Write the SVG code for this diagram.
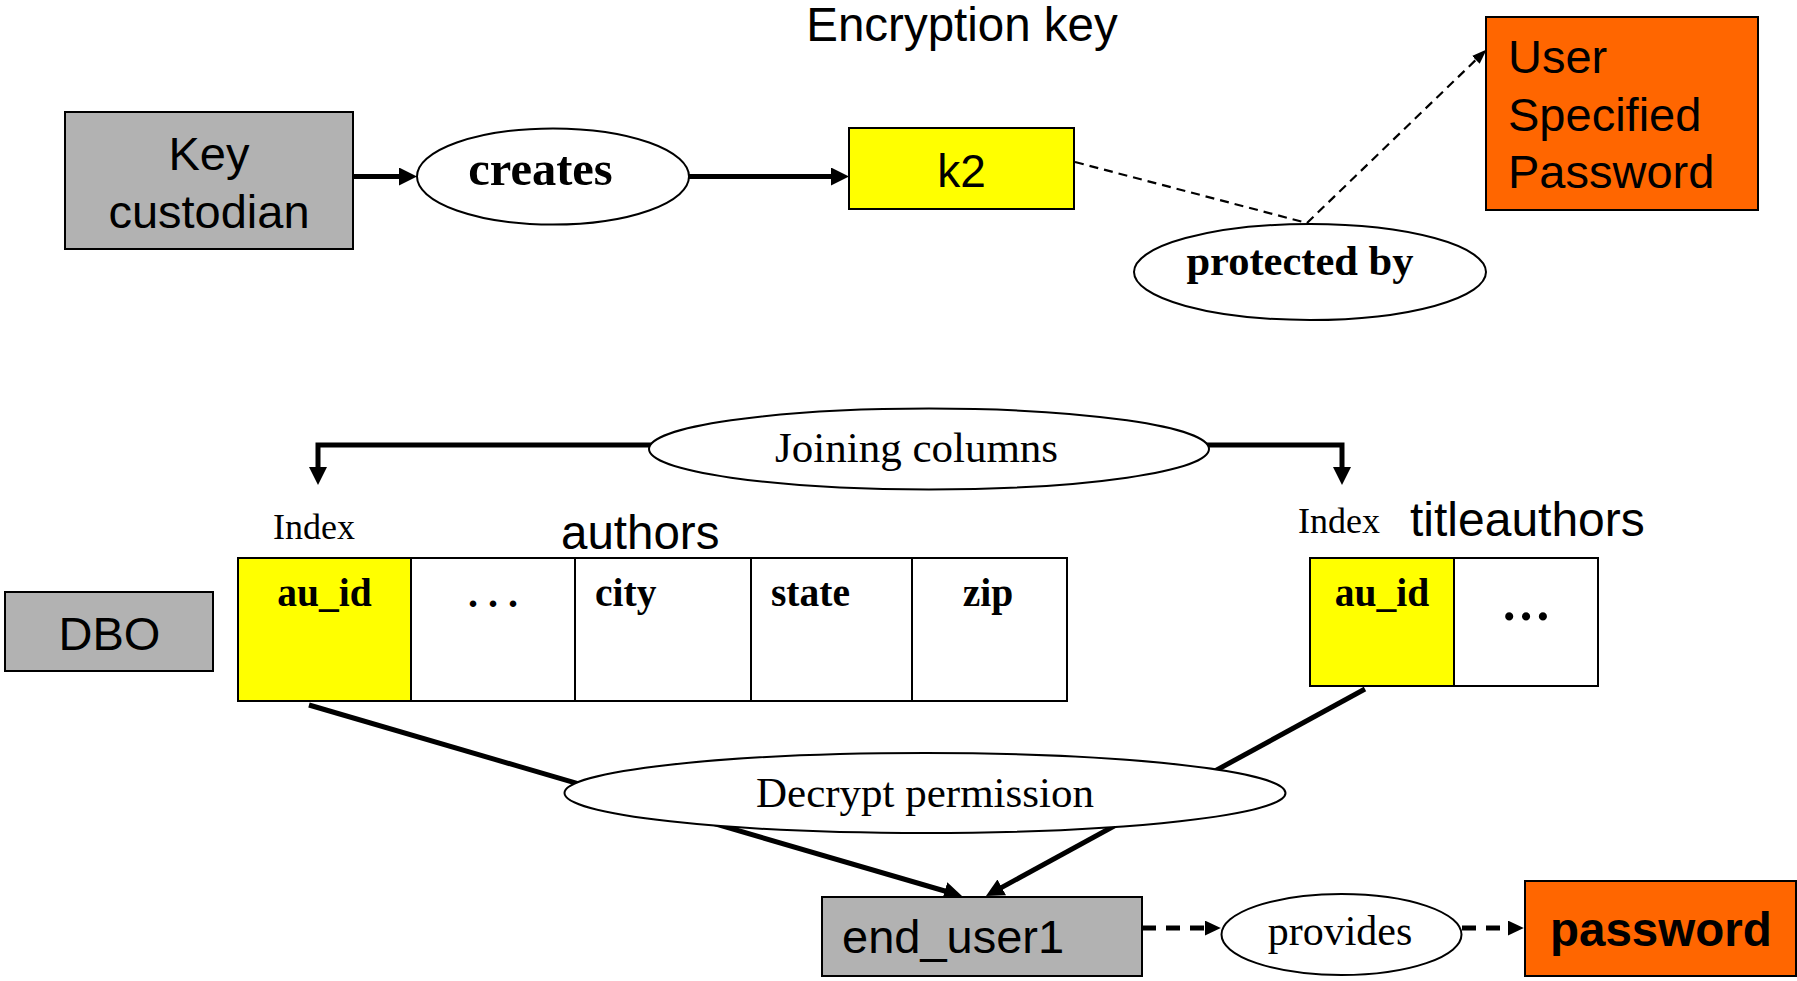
<svg xmlns="http://www.w3.org/2000/svg" width="1797" height="981" viewBox="0 0 1797 981">
  <style>
    .sans { font-family: "Liberation Sans", Arial, sans-serif; fill: #000; }
    .serif { font-family: "Liberation Serif", "Times New Roman", serif; fill: #000; }
    .bold { font-weight: bold; }
    .box { stroke: #000; stroke-width: 2; }
    .gray { fill: #b2b2b2; }
    .yellow { fill: #ffff00; }
    .orange { fill: #ff6600; }
    .white { fill: #ffffff; }
    .oval { fill: #ffffff; stroke: #000; stroke-width: 2; }
    .thick { fill: none; stroke: #000; stroke-width: 5; }
    .thin-dash { fill: none; stroke: #000; stroke-width: 2.2; stroke-dasharray: 9 6; }
    .thick-dash { fill: none; stroke: #000; stroke-width: 5; stroke-dasharray: 14 10; }
  </style>
  <defs>
    <marker id="ah" viewBox="0 0 10 10" refX="2" refY="5" markerUnits="userSpaceOnUse" markerWidth="18" markerHeight="18" orient="auto" preserveAspectRatio="none">
      <path d="M0,0 L10,5 L0,10 z" fill="#000"/>
    </marker>
    <marker id="ah-dash" viewBox="0 0 10 10" refX="2" refY="5" markerUnits="userSpaceOnUse" markerWidth="16" markerHeight="15" orient="auto" preserveAspectRatio="none">
      <path d="M0,0 L10,5 L0,10 z" fill="#000"/>
    </marker>
    <marker id="ah-thin" viewBox="0 0 10 10" refX="2" refY="5" markerUnits="userSpaceOnUse" markerWidth="15" markerHeight="11" orient="auto" preserveAspectRatio="none">
      <path d="M0,0 L10,5 L0,10 z" fill="#000"/>
    </marker>
  </defs>

  <rect width="1797" height="981" fill="#ffffff"/>

  <!-- heading -->
  <text class="sans" x="962" y="41" font-size="47.5" text-anchor="middle">Encryption key</text>

  <!-- connectors (drawn first so the ovals sit on top of them) -->
  <g id="connectors">
    <line class="thick" x1="353" y1="176.5" x2="402.6" y2="176.5" marker-end="url(#ah)"/>
    <line class="thick" x1="689" y1="176.5" x2="834.6" y2="176.5" marker-end="url(#ah)"/>
    <line class="thin-dash" x1="1075" y1="162" x2="1307" y2="223"/>
    <line class="thin-dash" x1="1307" y1="223" x2="1478" y2="57.8" marker-end="url(#ah-thin)"/>
    <path class="thick" d="M652,445 H318 V470.6" marker-end="url(#ah)"/>
    <path class="thick" d="M1206,445 H1342 V470.6" marker-end="url(#ah)"/>
    <line class="thick" x1="309" y1="705" x2="948.2" y2="892" marker-end="url(#ah)"/>
    <line class="thick" x1="1365" y1="689" x2="998.6" y2="889.1" marker-end="url(#ah)"/>
    <line class="thick-dash" x1="1142" y1="928" x2="1208" y2="928" marker-end="url(#ah-dash)"/>
    <line class="thick-dash" x1="1462" y1="928" x2="1511" y2="928" marker-end="url(#ah-dash)"/>
  </g>

  <g id="key-custodian">
    <rect class="box gray" x="65" y="112" width="288" height="137"/>
    <text class="sans" x="209" y="170" font-size="47" text-anchor="middle">Key</text>
    <text class="sans" x="209" y="228" font-size="47" text-anchor="middle">custodian</text>
  </g>

  <g id="creates">
    <ellipse class="oval" cx="553" cy="176.5" rx="136" ry="48"/>
    <text class="serif bold" x="540.5" y="185" font-size="48.5" text-anchor="middle">creates</text>
  </g>

  <g id="k2">
    <rect class="box yellow" x="849" y="128" width="225" height="81"/>
    <text class="sans" x="961.5" y="187" font-size="46" text-anchor="middle">k2</text>
  </g>

  <g id="protected-by">
    <ellipse class="oval" cx="1310" cy="272" rx="176" ry="48"/>
    <text class="serif bold" x="1300" y="275" font-size="42.5" text-anchor="middle">protected by</text>
  </g>

  <g id="user-password">
    <rect class="box orange" x="1486" y="17" width="272" height="193"/>
    <text class="sans" x="1508" y="73" font-size="47">User</text>
    <text class="sans" x="1508" y="131" font-size="47">Specified</text>
    <text class="sans" x="1508" y="188" font-size="47">Password</text>
  </g>

  <g id="joining-columns">
    <ellipse class="oval" cx="929" cy="449" rx="280" ry="40.5"/>
    <text class="serif" x="775" y="462" font-size="43">Joining columns</text>
  </g>

  <g id="dbo">
    <rect class="box gray" x="5" y="592" width="208" height="79"/>
    <text class="sans" x="109.5" y="650" font-size="47" text-anchor="middle">DBO</text>
  </g>

  <g id="authors">
    <text class="serif" x="273" y="539" font-size="36">Index</text>
    <text class="sans" x="561" y="549" font-size="47.5">authors</text>
    <rect class="box yellow" x="238" y="558" width="173" height="143"/>
    <rect class="box white" x="411" y="558" width="164" height="143"/>
    <rect class="box white" x="575" y="558" width="176" height="143"/>
    <rect class="box white" x="751" y="558" width="161" height="143"/>
    <rect class="box white" x="912" y="558" width="155" height="143"/>
    <text class="serif bold" x="324.5" y="606" font-size="39.5" text-anchor="middle">au_id</text>
    <text class="serif bold" x="493" y="607" font-size="40" text-anchor="middle">. . .</text>
    <text class="serif bold" x="595" y="606" font-size="39.5">city</text>
    <text class="serif bold" x="771" y="606" font-size="39.5">state</text>
    <text class="serif bold" x="988" y="606" font-size="39.5" text-anchor="middle">zip</text>
  </g>

  <g id="titleauthors">
    <text class="serif" x="1298" y="533" font-size="36">Index</text>
    <text class="sans" x="1410" y="536" font-size="48">titleauthors</text>
    <rect class="box yellow" x="1310" y="558" width="144" height="128"/>
    <rect class="box white" x="1454" y="558" width="144" height="128"/>
    <text class="serif bold" x="1382" y="606" font-size="39.5" text-anchor="middle">au_id</text>
    <text class="serif bold" x="1526" y="620" font-size="50" text-anchor="middle">…</text>
  </g>

  <g id="decrypt-permission">
    <ellipse class="oval" cx="925" cy="793" rx="360.5" ry="40"/>
    <text class="serif" x="925" y="807" font-size="43" text-anchor="middle">Decrypt permission</text>
  </g>

  <g id="end-user1">
    <rect class="box gray" x="822" y="897" width="320" height="79"/>
    <text class="sans" x="842" y="953" font-size="47">end_user1</text>
  </g>

  <g id="provides">
    <ellipse class="oval" cx="1341.5" cy="934.5" rx="120" ry="40.5"/>
    <text class="serif" x="1340" y="945" font-size="42" text-anchor="middle">provides</text>
  </g>

  <g id="password">
    <rect class="box orange" x="1525" y="881" width="271" height="95"/>
    <text class="sans bold" x="1550" y="946" font-size="47.5">password</text>
  </g>
</svg>
